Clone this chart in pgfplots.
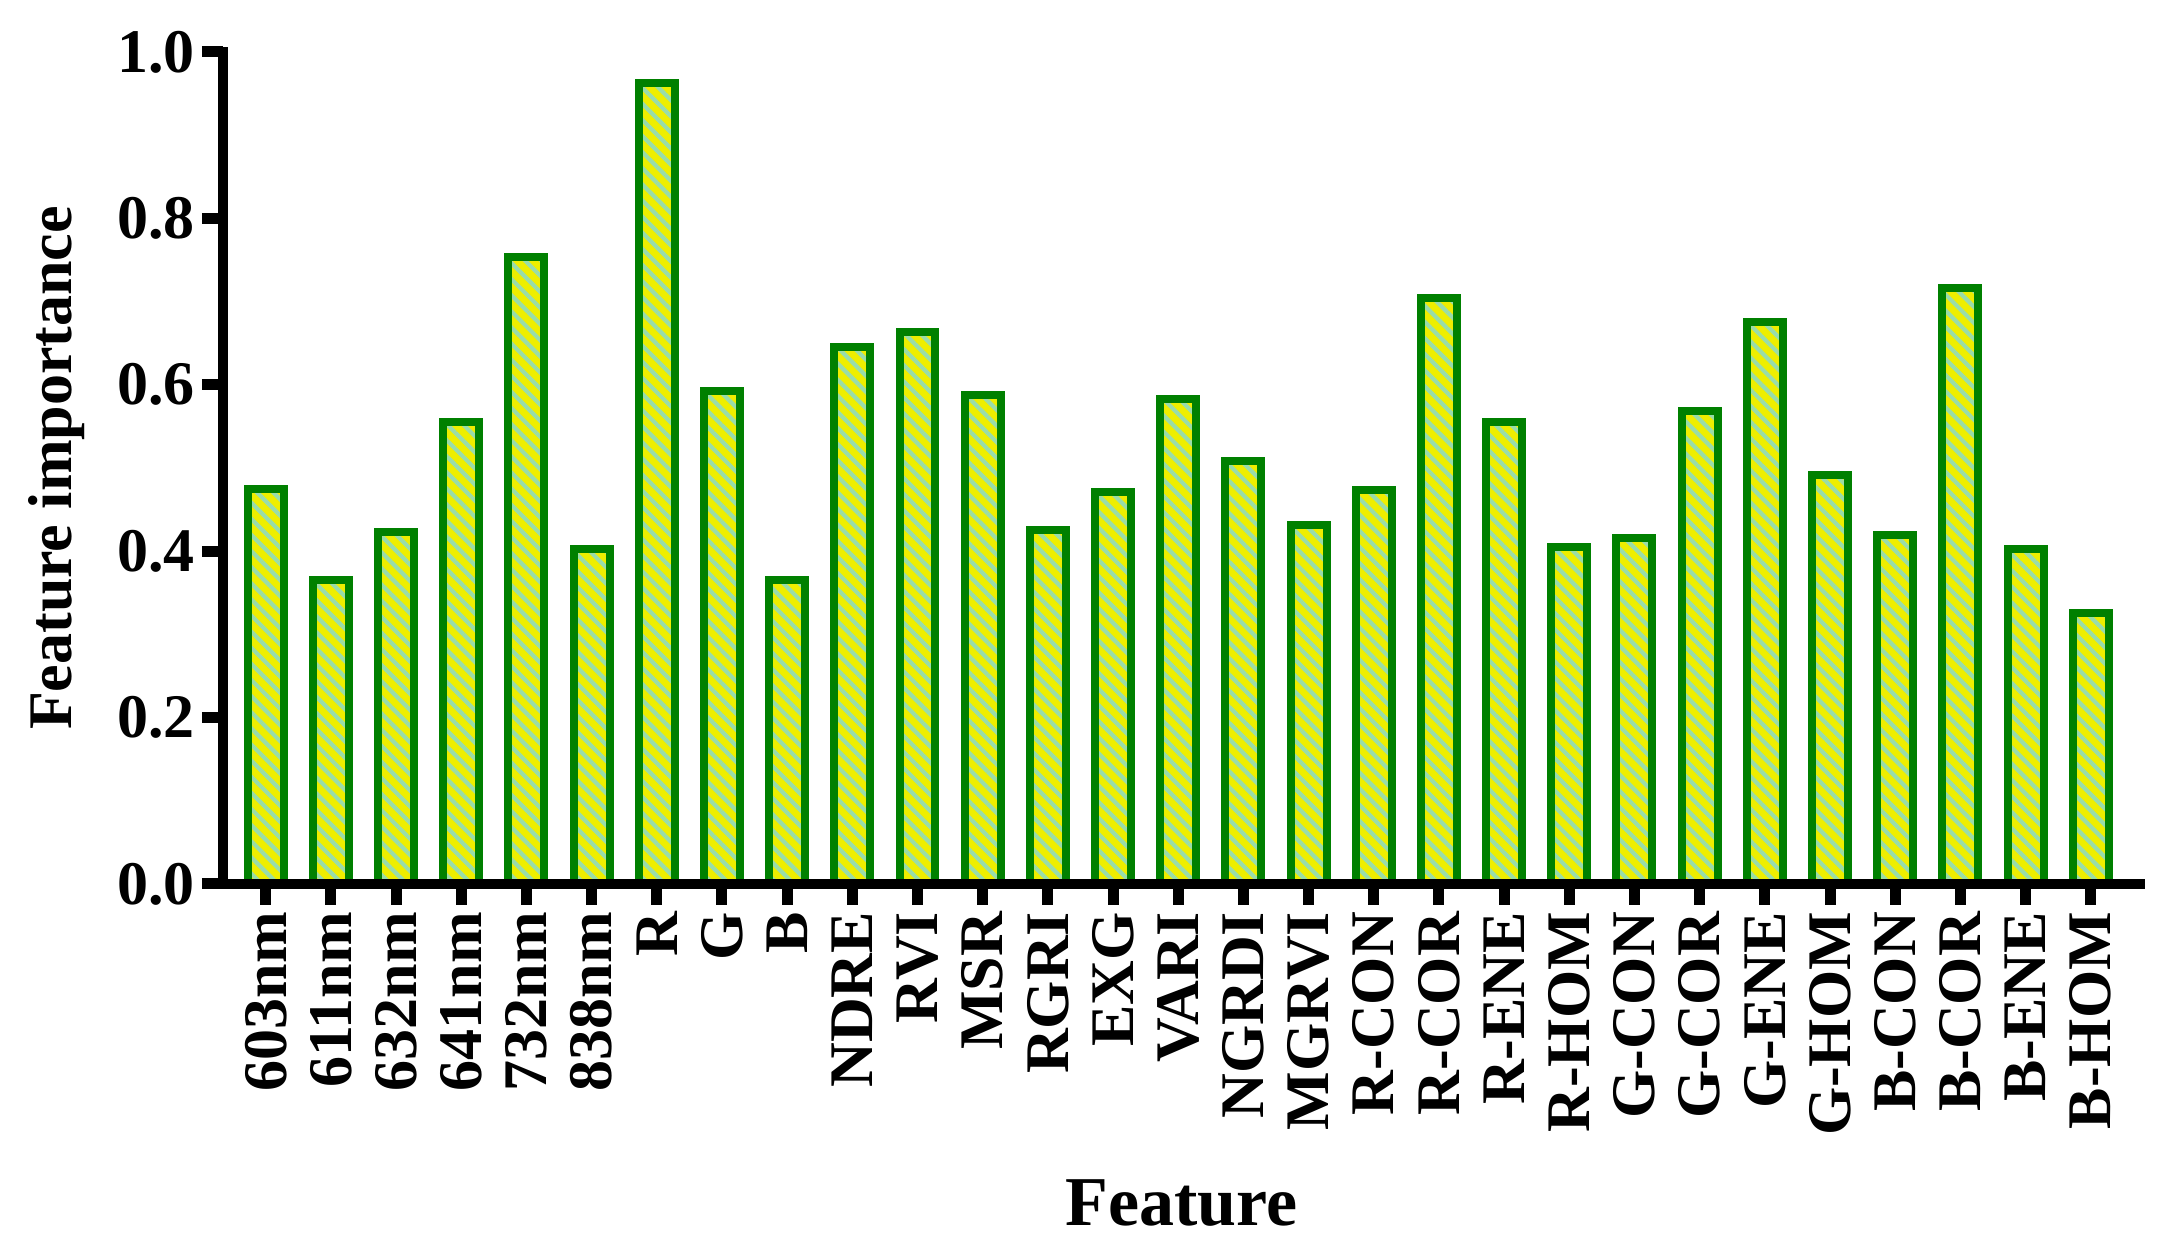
\documentclass[border=0pt]{standalone}
\usepackage{fontspec}
\setmainfont{Liberation Serif}
\usepackage{pgfplots}
\pgfplotsset{compat=1.18}
\usepackage{pgfplotstable}
\usetikzlibrary{patterns.meta}
\definecolor{baryel}{HTML}{EEEE00}
\definecolor{stripe}{HTML}{99DDAA}
\definecolor{barg}{HTML}{008000}
\pgfplotstableread{
x y
0 0.475
1 0.365
2 0.423
3 0.555
4 0.754
5 0.403
6 0.963
7 0.593
8 0.365
9 0.645
10 0.663
11 0.588
12 0.426
13 0.471
14 0.583
15 0.509
16 0.431
17 0.474
18 0.704
19 0.555
20 0.405
21 0.416
22 0.569
23 0.676
24 0.491
25 0.420
26 0.716
27 0.403
28 0.326
}\datatable
\begin{document}
\begin{tikzpicture}
\useasboundingbox (-111.5pt,-183.5pt) rectangle (968.5pt,442pt);
\begin{axis}[
  at={(0,0)}, anchor=south west,
  scale only axis,
  width=958.5pt, height=416pt,
  xmin=-0.655, xmax=28.756,
  ymin=0, ymax=1,
  axis lines=left,
  axis line style={-, line width=5pt, line cap=rect, black},
  axis on top=true,
  tick align=outside,
  major tick length=10.5pt,
  every tick/.style={black, line width=5.5pt},
  xtick={0,...,28},
  xticklabels={603nm,611nm,632nm,641nm,732nm,838nm,R,G,B,NDRE,RVI,MSR,RGRI,EXG,VARI,NGRDI,MGRVI,R-CON,R-COR,R-ENE,R-HOM,G-CON,G-COR,G-ENE,G-HOM,B-CON,B-COR,B-ENE,B-HOM},
  ytick={0,0.2,0.4,0.6,0.8,1.0},
  yticklabels={0.0,0.2,0.4,0.6,0.8,1.0},
  xticklabel style={rotate=90, anchor=east, font=\fontsize{31}{31}\selectfont\bfseries},
  yticklabel style={font=\fontsize{31}{31}\selectfont\bfseries},
  xlabel={Feature},
  ylabel={Feature importance},
  xlabel style={at={(axis description cs:0.5,0)}, anchor=base, yshift=-171pt, font=\fontsize{35}{35}\selectfont\bfseries},
  ylabel style={at={(axis description cs:-0.0866,0.5)}, anchor=center, font=\fontsize{31}{31}\selectfont\bfseries},
]
\addplot[ybar, bar width=0.552, draw=barg, line width=4pt,
  preaction={fill=baryel},
  pattern={Lines[angle=-45,distance=5.7pt,line width=2.1pt]}, pattern color=stripe]
  table[x=x,y=y] {\datatable};
\end{axis}
\end{tikzpicture}
\end{document}
